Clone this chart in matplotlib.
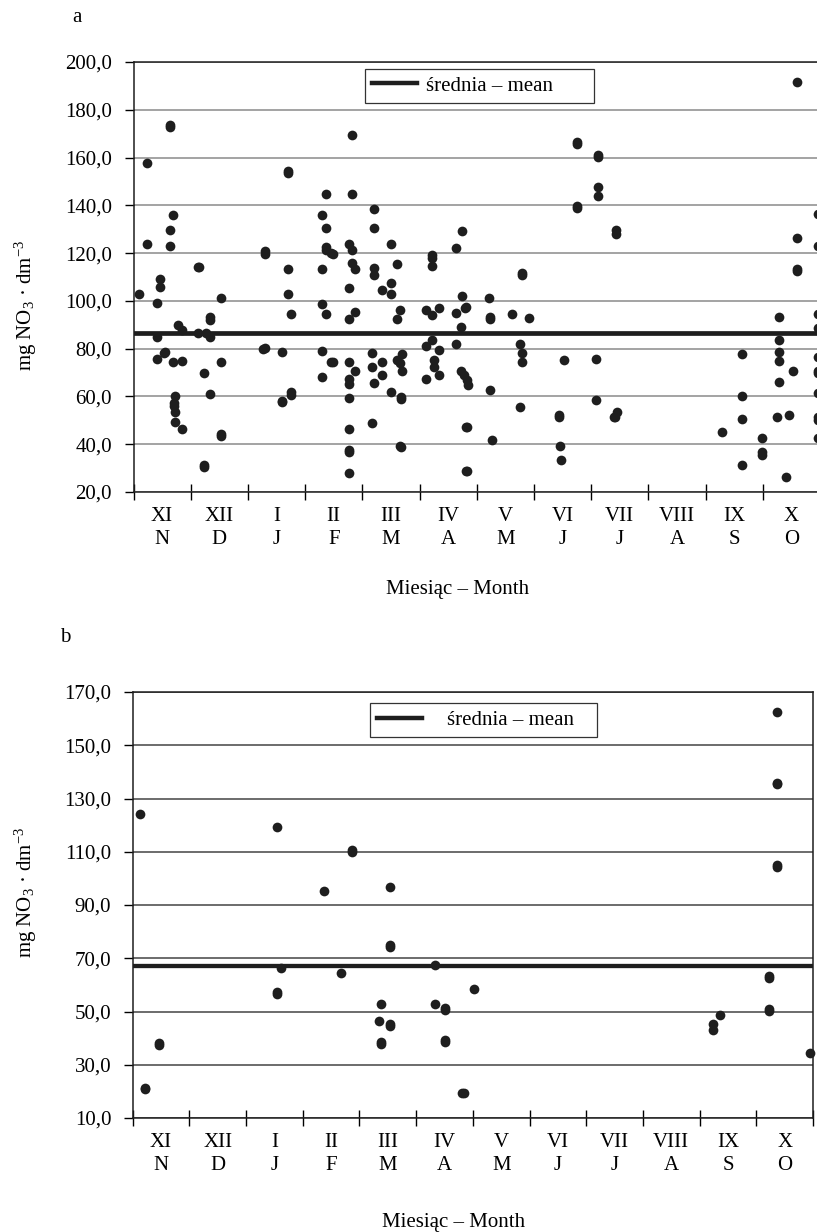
import numpy as np
import matplotlib
matplotlib.use('Agg')
import matplotlib.pyplot as plt
from matplotlib.ticker import FuncFormatter, MultipleLocator, FixedLocator

plt.rcParams['font.family'] = ['Liberation Serif', 'DejaVu Serif']
plt.rcParams['mathtext.fontset'] = 'custom'
plt.rcParams['mathtext.rm'] = 'Liberation Serif'
plt.rcParams['mathtext.it'] = 'Liberation Serif:italic'

# month labels (hydrological year, XI -> X)
months_pl = ['XI', 'XII', 'I', 'II', 'III', 'IV', 'V', 'VI', 'VII', 'VIII', 'IX', 'X']
months_en = ['N', 'D', 'J', 'F', 'M', 'A', 'M', 'J', 'J', 'A', 'S', 'O']

# panel a: position in year (months from 1 Nov) and NO3 concentration
a_time = [0.10, 0.23, 0.23, 0.41, 0.41, 0.41, 0.46, 0.46, 0.55, 0.53, 0.63, 0.63, 0.63, 0.63,
          0.69, 0.69, 0.73, 0.71, 0.71, 0.73, 0.72, 0.78, 0.84, 0.84, 0.84,
          1.12, 1.14, 1.53, 1.33, 1.33, 1.12, 1.27, 1.33, 1.53, 1.24, 1.33, 1.53, 1.53, 1.24, 1.24,
          2.29, 2.29, 2.70, 2.70, 2.70, 2.70, 2.75, 2.29, 2.27, 2.59, 2.75, 2.75, 2.59, 2.59,
          3.37, 3.82, 3.82, 3.30, 3.37, 3.37, 3.37, 3.49, 3.45, 3.30, 3.76, 3.82, 3.82, 3.88,
          3.76, 3.30, 3.37, 3.76, 3.88, 3.30, 3.49, 3.45, 3.30, 3.76, 3.88, 3.76, 3.76, 3.76,
          3.76, 3.76, 3.76, 3.76,
          4.20, 4.20, 4.50, 4.20, 4.20, 4.60, 4.34, 4.50, 4.50, 4.65, 4.60, 4.17, 4.17, 4.34,
          4.20, 4.34, 4.60, 4.69, 4.65, 4.69, 4.50, 4.68, 4.68, 4.17, 4.65, 4.67,
          5.22, 5.22, 5.22, 5.11, 5.22, 5.34, 5.22, 5.11, 5.34, 5.26, 5.26, 5.34, 5.11, 5.63,
          5.75, 5.75, 5.81, 5.79, 5.63, 5.63, 5.73, 5.72, 5.77, 5.83, 5.84, 5.83, 5.81, 5.81, 5.83,
          6.21, 6.24, 6.24, 6.24, 6.27, 6.62, 6.79, 6.79, 6.91, 6.76, 6.79, 6.79, 6.76,
          7.53, 7.43, 7.43, 7.46, 7.47, 7.75, 7.75, 7.75, 7.75,
          8.12, 8.12, 8.12, 8.12, 8.44, 8.44, 8.09, 8.09, 8.45, 8.42, 8.40,
          10.28, 10.63, 10.63, 10.63, 10.63, 10.99, 10.99, 10.99,
          11.60, 11.60, 11.60, 11.60, 11.28, 11.28, 11.28, 11.28, 11.53, 11.28, 11.24, 11.45, 11.41,
          11.96, 11.96, 11.96, 11.96, 11.96, 11.96, 11.96, 11.96, 11.96, 11.96, 11.96]
a_no3 = [102.8, 157.6, 123.7, 99.2, 84.8, 75.7, 109.0, 105.9, 78.7, 78.0, 173.6, 172.8, 129.7, 123.0,
         136.0, 74.3, 60.3, 57.4, 56.2, 53.4, 49.4, 89.8, 87.8, 75.0, 46.4,
         114.3, 114.0, 101.3, 93.4, 92.2, 86.4, 86.4, 85.0, 74.3, 69.7, 61.0, 43.6, 44.3, 30.6, 31.3,
         121.0, 119.8, 153.4, 154.2, 113.2, 102.8, 94.4, 80.4, 80.0, 78.5, 62.0, 60.6, 57.6, 58.2,
         144.6, 144.6, 169.4, 136.0, 130.6, 122.7, 121.3, 119.6, 120.2, 113.2, 123.7, 121.3, 116.0, 113.2,
         105.5, 98.6, 94.4, 92.4, 95.2, 79.2, 74.3, 74.3, 68.0, 74.3, 70.8, 67.2, 65.1, 59.2,
         46.4, 36.6, 37.4, 27.8,
         138.3, 130.6, 123.7, 113.6, 110.8, 115.3, 104.6, 107.4, 102.8, 96.2, 92.3, 78.3, 72.2, 74.3,
         65.5, 69.0, 75.3, 77.8, 73.9, 70.8, 62.0, 59.9, 58.9, 48.8, 39.4, 39.0,
         119.2, 117.8, 114.6, 96.2, 94.1, 96.9, 83.6, 81.1, 79.4, 75.3, 72.5, 69.0, 67.2, 122.3,
         129.3, 102.0, 97.6, 97.0, 94.8, 81.8, 88.9, 70.8, 69.0, 66.9, 64.8, 47.1, 47.1, 28.8, 28.8,
         101.3, 93.4, 92.6, 62.7, 41.8, 94.4, 111.8, 111.0, 92.7, 81.8, 78.3, 74.3, 55.7,
         75.3, 52.2, 51.5, 39.4, 33.4, 166.6, 165.8, 139.7, 139.0,
         161.1, 160.4, 147.6, 143.9, 129.8, 128.0, 75.7, 58.5, 53.6, 51.5, 51.2,
         45.2, 77.8, 60.3, 50.6, 31.3, 42.5, 36.9, 35.5,
         191.8, 126.5, 113.2, 112.4, 93.4, 83.6, 78.7, 75.0, 70.7, 66.2, 51.5, 52.2, 26.4,
         136.2, 123.0, 94.4, 88.5, 76.6, 70.7, 70.0, 61.3, 51.5, 50.1, 42.7]
a_mean = 86.4

# panel b
b_time = [0.13, 0.22, 0.22, 0.46, 0.46, 2.54, 2.54, 2.54, 2.61, 3.38, 3.67, 3.86, 3.86,
          4.54, 4.54, 4.54, 4.38, 4.35, 4.54, 4.54, 4.38, 4.38,
          5.34, 5.34, 5.51, 5.51, 5.51, 5.51, 5.81, 5.85, 6.02,
          10.24, 10.24, 10.36, 11.23, 11.23, 11.23, 11.23, 11.36, 11.36, 11.36, 11.36, 11.36, 11.95]
b_no3 = [124.1, 20.8, 21.4, 37.3, 38.0, 119.3, 56.5, 57.2, 66.5, 95.3, 64.3, 110.0, 110.6,
         96.7, 74.3, 75.0, 52.8, 46.5, 44.7, 45.3, 37.9, 38.6,
         67.5, 52.8, 50.6, 51.2, 38.7, 39.4, 19.5, 19.5, 58.3,
         45.2, 43.1, 48.7, 62.7, 63.3, 50.3, 51.0, 162.5, 135.3, 136.0, 104.4, 105.1, 34.3]
b_mean = 67.2

W, H = 817, 1232
fig = plt.figure(figsize=(W / 100, H / 100), dpi=100)

ax_a = fig.add_axes([133.5 / W, 1 - 492 / H, (820 - 133.5) / W, 430 / H])
ax_b = fig.add_axes([132.7 / W, 1 - 1118 / H, (813 - 132.7) / W, 426 / H])

comma = FuncFormatter(lambda v, p: f'{v:.1f}'.replace('.', ','))
dot_color = '#1e1e1e'

panels = [
    (ax_a, a_time, a_no3, a_mean, (20, 200), '#8a8a8a', 3.4,
     (0.337, 0.984 - 0.0814, 0.3336, 0.0814), 0.45, 'a', (77, 17), -0.205, 305),
    (ax_b, b_time, b_no3, b_mean, (10, 170), '#444444', 3.1,
     (0.349, 0.974 - 0.082, 0.3337, 0.082), 1.2, 'b', (65, 637), -0.222, 892),
]

for ax, t, v, m, ylim, gcol, mlw, lbox, htp, letter, lpos, xly, ylab_y in panels:
    ax.axhline(m, color=dot_color, lw=mlw, zorder=3, label='średnia – mean')
    ax.plot(t, v, 'o', color=dot_color, ms=7, mew=0, zorder=4, clip_on=False)

    ax.set_xlim(0, 12)
    ax.set_ylim(*ylim)
    ax.yaxis.set_major_locator(FixedLocator(np.arange(ylim[0], ylim[1] + 1, 20)))
    ax.yaxis.set_major_formatter(comma)
    ax.set_axisbelow(True)
    ax.yaxis.grid(True, color=gcol, lw=1.1)

    ax.xaxis.set_major_locator(MultipleLocator(1))
    ax.xaxis.set_minor_locator(FixedLocator(np.arange(12) + 0.5))
    ax.set_xticklabels([f'{p}\n{e}' for p, e in zip(months_pl, months_en)], minor=True)
    ax.tick_params(axis='x', which='major', direction='inout', length=11.5, width=1,
                   labelbottom=False)
    ax.tick_params(axis='x', which='minor', length=0, labelsize=15, pad=11)
    for lab in ax.get_xticklabels(minor=True):
        lab.set_linespacing(1.25)
    ax.tick_params(axis='y', direction='out', length=6.5, width=1, labelsize=15, pad=9)
    for s in ax.spines.values():
        s.set_linewidth(1.1)
        s.set_color('#1e1e1e')

    ax.set_xlabel('Miesiąc – Month', fontsize=15)
    ax.xaxis.set_label_coords(0.472, xly)

    leg = ax.legend(loc='upper left', bbox_to_anchor=lbox, mode='expand', borderaxespad=0,
                    fontsize=15, handlelength=2.15, handletextpad=htp, borderpad=0.35,
                    fancybox=False, framealpha=1, edgecolor='#333333')
    leg.get_frame().set_linewidth(0.9)
    for ln in leg.get_lines():
        ln.set_linewidth(3.2)

    fig.text(26 / W, 1 - ylab_y / H, r'mg NO$_3$ · dm$^{-3}$', rotation=90,
             ha='center', va='center', fontsize=15)
    fig.text(lpos[0] / W, 1 - lpos[1] / H, letter, ha='center', va='center', fontsize=15)

fig.savefig('out.png', dpi=100)
